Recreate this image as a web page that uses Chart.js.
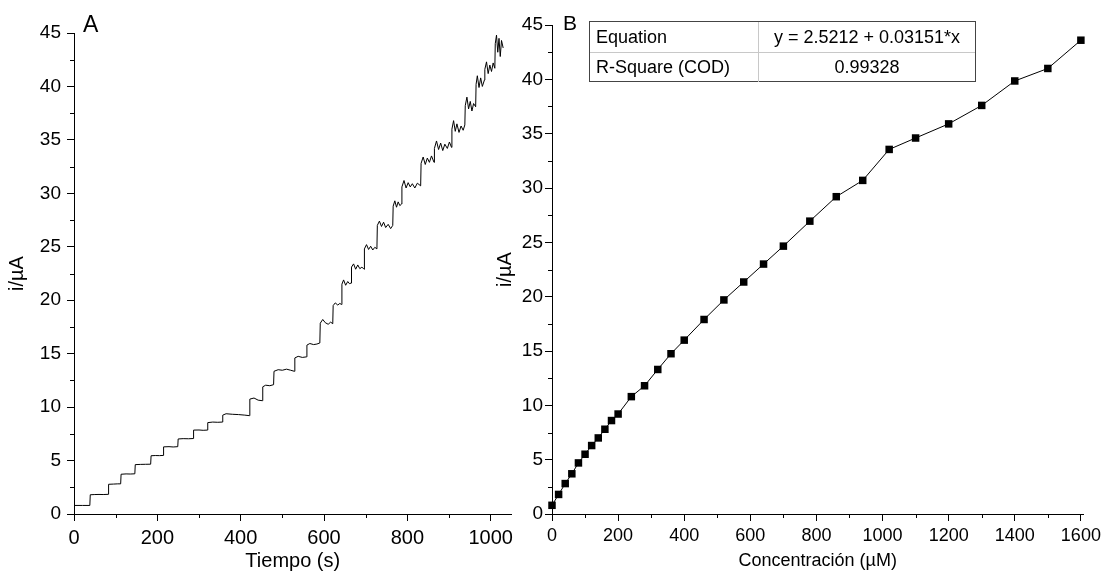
<!DOCTYPE html>
<html>
<head>
<meta charset="utf-8">
<script src="https://cdn.jsdelivr.net/npm/chart.js@4.4.1/dist/chart.umd.min.js"></script>
<style>
  html, body { margin: 0; padding: 0; background: #fff; width: 1105px; height: 571px; overflow: hidden; font-family: 'Liberation Sans', Arial, sans-serif; }
  canvas { position: absolute; top: 0; }
  #cA { left: 0; }
  #cB { left: 480px; }
  .panel-label { position: absolute; line-height: 1; color: #000; }
  #fitTable { position: absolute; left: 589px; top: 21px; width: 387px; height: 61px; box-sizing: border-box;
    border: 1px solid #444; font-size: 18px; color: #000; background: #fff; }
  #fitTable .row { position: absolute; left: 0; right: 0; height: 30px; }
  #fitTable .c1 { position: absolute; left: 6px; top: 0; height: 30px; line-height: 30px; }
  #fitTable .c2 { position: absolute; left: 168px; right: 0; top: 0; height: 30px; line-height: 30px; text-align: center; border-left: 1px solid #c8c8c8; }
</style>
</head>
<body>
<canvas id="cA" width="540" height="571"></canvas>
<canvas id="cB" width="625" height="571"></canvas>
<div class="panel-label" style="left:83px; top:13px; font-size:23px;">A</div>
<div class="panel-label" style="left:563px; top:12px; font-size:21px;">B</div>
<div id="fitTable">
  <div class="row" style="top:0;border-bottom:1px solid #c8c8c8;"><div class="c1">Equation</div><div class="c2">y = 2.5212 + 0.03151*x</div></div>
  <div class="row" style="top:30px;"><div class="c1">R-Square (COD)</div><div class="c2">0.99328</div></div>
</div>
<script>
// ---- Panel A: amperometric response (time in s, current in µA) ----
const tiempo = [
  0, 20, 38, 39, 50, 60, 70, 82, 83, 95, 105, 112, 113, 125, 135, 146, 147, 160, 172, 184,
  185, 195, 205, 214, 215, 228, 238, 249, 250, 262, 275, 286, 287, 300, 310, 320, 321, 333, 345, 356,
  357, 365, 380, 395, 410, 421, 422, 432, 442, 452, 453, 460, 470, 479, 480, 490, 500, 510, 520, 529,
  530, 538, 548, 558, 559, 566, 575, 583, 590, 591, 597, 603, 610, 616, 621, 622, 627, 633, 638, 642,
  643, 647, 652, 657, 661, 665, 666, 671, 676, 681, 686, 691, 696, 697, 702, 707, 712, 717, 722, 727,
  728, 733, 738, 743, 748, 754, 760, 765, 766, 770, 774, 778, 782, 786, 787, 792, 797, 802, 807, 812,
  818, 824, 832, 833, 838, 843, 848, 853, 858, 864, 865, 870, 875, 880, 885, 890, 896, 901, 906, 907,
  911, 915, 919, 924, 929, 934, 938, 939, 943, 947, 951, 955, 959, 964, 965, 968, 972, 976, 980, 985,
  986, 990, 994, 998, 1002, 1006, 1010, 1011, 1014, 1017, 1020, 1023, 1026, 1030
];
const corriente = [
  0.80, 0.80, 0.80, 1.80, 1.82, 1.83, 1.82, 1.84, 2.78, 2.80, 2.82, 2.82, 3.72, 3.75, 3.74, 3.76, 4.62, 4.64, 4.65, 4.66,
  5.45, 5.47, 5.46, 5.48, 6.28, 6.30, 6.27, 6.30, 7.02, 7.05, 7.04, 7.06, 7.85, 7.86, 7.83, 7.85, 8.55, 8.60, 8.58, 8.60,
  9.25, 9.38, 9.33, 9.30, 9.25, 9.20, 10.75, 10.85, 10.65, 10.60, 11.90, 12.05, 12.00, 12.10, 13.35, 13.50, 13.45, 13.55, 13.45, 13.35,
  14.60, 14.75, 14.65, 14.70, 15.80, 15.95, 15.85, 15.90, 16.00, 17.85, 18.20, 17.90, 17.75, 17.95, 17.80, 19.50, 19.75, 19.55, 19.70, 19.60,
  21.50, 21.90, 21.40, 21.75, 21.55, 21.60, 23.10, 23.40, 22.90, 23.30, 22.95, 23.10, 22.90, 24.80, 25.20, 24.75, 25.05, 24.70, 24.95, 24.80,
  27.00, 27.40, 26.90, 27.30, 26.80, 27.10, 26.70, 27.00, 28.80, 29.30, 28.70, 29.20, 28.85, 29.00, 30.60, 31.20, 30.50, 31.00, 30.60, 30.90,
  30.50, 30.95, 30.70, 32.80, 33.40, 32.70, 33.30, 32.90, 33.50, 32.90, 34.20, 34.90, 34.10, 34.70, 34.00, 34.60, 34.20, 34.80, 34.30, 36.00,
  36.80, 35.80, 36.50, 35.70, 36.30, 35.90, 36.40, 38.20, 39.00, 37.90, 38.60, 37.70, 38.40, 38.10, 40.20, 41.00, 39.90, 40.80, 40.00, 40.60,
  41.60, 42.30, 41.20, 42.00, 41.40, 42.20, 41.70, 44.00, 44.80, 43.20, 44.50, 42.80, 44.30, 43.60
];

// ---- Panel B: calibration (concentration in µM, current in µA) ----
const concentracion = [0, 20, 40, 60, 80, 100, 120, 140, 160, 180, 200, 240, 280, 320, 360, 400, 460, 520, 580, 640,
  700, 780, 860, 940, 1020, 1100, 1200, 1300, 1400, 1500, 1600];
const corrienteB = [0.8, 1.8, 2.8, 3.7, 4.7, 5.5, 6.3, 7.0, 7.8, 8.6, 9.2, 10.8, 11.8, 13.3, 14.75, 16.0, 17.9, 19.7, 21.35, 23.0,
  24.65, 26.95, 29.2, 30.7, 33.55, 34.6, 35.9, 37.6, 39.85, 41.0, 43.6];

// tick labels (major) and minor tick values
const ticksA_x = [0, 200, 400, 600, 800, 1000];
const minorA_x = [100, 300, 500, 700, 900];
const ticksA_y = [0, 5, 10, 15, 20, 25, 30, 35, 40, 45];
const minorA_y = [2.5, 7.5, 12.5, 17.5, 22.5, 27.5, 32.5, 37.5, 42.5];
const ticksB_x = [0, 200, 400, 600, 800, 1000, 1200, 1400, 1600];
const minorB_x = [100, 300, 500, 700, 900, 1100, 1300, 1500];
const ticksB_y = ticksA_y;
const minorB_y = minorA_y;

const FONT = "'Liberation Sans', Arial, sans-serif";

const minorTicks = {
  id: 'minorTicks',
  afterDraw(chart, args, opts) {
    const ctx = chart.ctx;
    ctx.save();
    ctx.strokeStyle = '#000';
    ctx.lineWidth = 1;
    const xs = chart.scales.x, ys = chart.scales.y;
    const ca = chart.chartArea;
    ctx.beginPath();
    opts.x.forEach(v => {
      const p = Math.round(xs.getPixelForValue(v)) + 0.5;
      ctx.moveTo(p, ca.bottom);
      ctx.lineTo(p, ca.bottom + 4);
    });
    opts.y.forEach(v => {
      const p = Math.round(ys.getPixelForValue(v)) + 0.5;
      ctx.moveTo(ca.left, p);
      ctx.lineTo(ca.left - 4, p);
    });
    ctx.stroke();
    ctx.restore();
  }
};

function axisCommon(tickVals, extra) {
  return Object.assign({
    type: 'linear',
    afterBuildTicks(s) { s.ticks = tickVals.map(v => ({ value: v })); },
    grid: { display: true, drawOnChartArea: false, drawTicks: true, tickLength: 7, color: '#000', lineWidth: 1 },
    border: { display: true, color: '#000', width: 1 }
  }, extra);
}
const fmt = v => String(v);

new Chart(document.getElementById('cA'), {
  type: 'line',
  data: {
    datasets: [{
      data: tiempo.map((t, i) => ({ x: t, y: corriente[i] })),
      borderColor: '#000', borderWidth: 1, pointRadius: 0, tension: 0, fill: false
    }]
  },
  plugins: [minorTicks],
  options: {
    responsive: false, animation: false, devicePixelRatio: 1,
    layout: { padding: { left: 0, top: 33, right: 28.5, bottom: 0 } },
    plugins: { legend: { display: false }, tooltip: { enabled: false }, minorTicks: { x: minorA_x, y: minorA_y } },
    scales: {
      x: axisCommon(ticksA_x, {
        min: 0, max: 1050,
        afterFit(s) { s.height = 57; },
        ticks: { autoSkip: false, maxRotation: 0, padding: 5, callback: fmt,
          color: '#000', font: { family: FONT, size: 20 } },
        title: { display: true, text: 'Tiempo (s)', color: '#000', padding: { top: 0, bottom: 0 },
          font: { family: FONT, size: 20, lineHeight: 1 } }
      }),
      y: axisCommon(ticksA_y, {
        min: 0, max: 45,
        afterFit(s) { s.width = 74; },
        ticks: { autoSkip: false, padding: 6, callback: fmt,
          color: '#000', font: { family: FONT, size: 19 } },
        title: { display: true, text: 'i/µA', color: '#000', padding: { top: 7, bottom: 0 },
          font: { family: FONT, size: 20, lineHeight: 1 } }
      })
    }
  }
});

new Chart(document.getElementById('cB'), {
  type: 'line',
  data: {
    datasets: [{
      data: concentracion.map((c, i) => ({ x: c, y: corrienteB[i] })),
      borderColor: '#000', borderWidth: 1, tension: 0, fill: false, clip: false,
      pointStyle: 'rect', pointRadius: 5.3, pointBackgroundColor: '#000', pointBorderWidth: 0
    }]
  },
  plugins: [minorTicks],
  options: {
    responsive: false, animation: false, devicePixelRatio: 1,
    layout: { padding: { left: 0, top: 25, right: 19, bottom: 0 } },
    plugins: { legend: { display: false }, tooltip: { enabled: false }, minorTicks: { x: minorB_x, y: minorB_y } },
    scales: {
      x: axisCommon(ticksB_x, {
        min: 0, max: 1608,
        afterFit(s) { s.height = 57; },
        ticks: { autoSkip: false, maxRotation: 0, padding: 4, callback: fmt,
          color: '#000', font: { family: FONT, size: 18 } },
        title: { display: true, text: 'Concentración (µM)', color: '#000', padding: { top: 0, bottom: 1 },
          font: { family: FONT, size: 18, lineHeight: 1 } }
      }),
      y: axisCommon(ticksB_y, {
        min: 0, max: 45,
        afterFit(s) { s.width = 72; },
        ticks: { autoSkip: false, padding: 2, callback: fmt,
          color: '#000', font: { family: FONT, size: 19 } },
        title: { display: true, text: 'i/µA', color: '#000', padding: { top: 15, bottom: 0 },
          font: { family: FONT, size: 20, lineHeight: 1 } }
      })
    }
  }
});
</script>
</body>
</html>
